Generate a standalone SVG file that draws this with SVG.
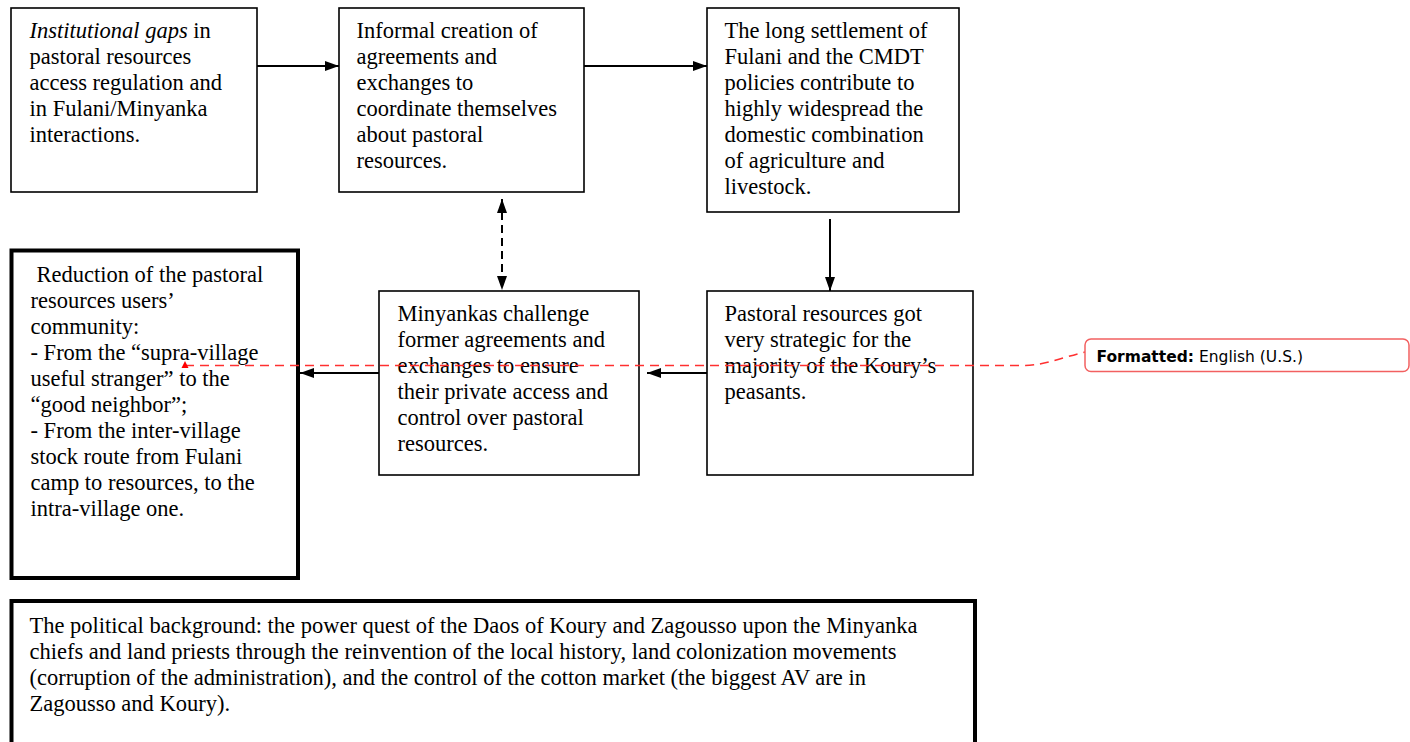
<svg xmlns="http://www.w3.org/2000/svg" width="1410" height="742" viewBox="0 0 1410 742">
<style>
.box{fill:#fff;stroke:#000;stroke-width:1.6}
.thick{fill:#fff;stroke:#000;stroke-width:4}
.t{font-family:"Liberation Serif","Times New Roman",serif;font-size:22.5px;fill:#000}
.c{stroke:#000;stroke-width:2;fill:none}
.dash{stroke:#000;stroke-width:2;fill:none;stroke-dasharray:8 5}
.red{stroke:#ff3030;stroke-width:1.5;fill:none;stroke-dasharray:9 6}
.note{font-family:"DejaVu Sans",Verdana,sans-serif;font-size:15.5px;fill:#000}
</style>
<defs>
<marker id="ah" markerUnits="userSpaceOnUse" markerWidth="14" markerHeight="10" refX="14" refY="5" orient="auto-start-reverse">
<path d="M0,0 L14,5 L0,10 z" fill="#000"/>
</marker>
</defs>
<rect width="1410" height="742" fill="#fff"/>
<g id="n1">
<rect class="box" x="11" y="8" width="246" height="184"/>
<text class="t"><tspan x="29.5" y="38"><tspan font-style="italic">Institutional gaps</tspan> in</tspan><tspan x="29.5" y="64">pastoral resources</tspan><tspan x="29.5" y="90">access regulation and</tspan><tspan x="29.5" y="116">in Fulani/Minyanka</tspan><tspan x="29.5" y="142">interactions.</tspan></text>
</g>
<g id="n2">
<rect class="box" x="339" y="8" width="245" height="184"/>
<text class="t"><tspan x="356.5" y="38">Informal creation of</tspan><tspan x="356.5" y="64">agreements and</tspan><tspan x="356.5" y="90">exchanges to</tspan><tspan x="356.5" y="116">coordinate themselves</tspan><tspan x="356.5" y="142">about pastoral</tspan><tspan x="356.5" y="168">resources.</tspan></text>
</g>
<g id="n3">
<rect class="box" x="707" y="8" width="252" height="204"/>
<text class="t"><tspan x="724.5" y="38">The long settlement of</tspan><tspan x="724.5" y="64">Fulani and the CMDT</tspan><tspan x="724.5" y="90">policies contribute to</tspan><tspan x="724.5" y="116">highly widespread the</tspan><tspan x="724.5" y="142">domestic combination</tspan><tspan x="724.5" y="168">of agriculture and</tspan><tspan x="724.5" y="194">livestock.</tspan></text>
</g>
<g id="n4">
<rect class="box" x="379" y="291" width="260" height="184"/>
<text class="t"><tspan x="397.5" y="321">Minyankas challenge</tspan><tspan x="397.5" y="347">former agreements and</tspan><tspan x="397.5" y="373">exchanges to ensure</tspan><tspan x="397.5" y="399">their private access and</tspan><tspan x="397.5" y="425">control over pastoral</tspan><tspan x="397.5" y="451">resources.</tspan></text>
</g>
<g id="n5">
<rect class="box" x="707" y="291" width="266" height="184"/>
<text class="t"><tspan x="724.5" y="321">Pastoral resources got</tspan><tspan x="724.5" y="347">very strategic for the</tspan><tspan x="724.5" y="373">majority of the Koury’s</tspan><tspan x="724.5" y="399">peasants.</tspan></text>
</g>
<g id="n6">
<rect class="thick" x="11.5" y="250.5" width="286.5" height="327.5"/>
<text class="t"><tspan x="36.5" y="282">Reduction of the pastoral</tspan><tspan x="30.5" y="308">resources users’</tspan><tspan x="30.5" y="334">community:</tspan><tspan x="30.5" y="360">- From the “supra-village</tspan><tspan x="30.5" y="386">useful stranger” to the</tspan><tspan x="30.5" y="412">“good neighbor”;</tspan><tspan x="30.5" y="438">- From the inter-village</tspan><tspan x="30.5" y="464">stock route from Fulani</tspan><tspan x="30.5" y="490">camp to resources, to the</tspan><tspan x="30.5" y="516">intra-village one.</tspan></text>
</g>
<g id="n7">
<rect class="thick" x="11.5" y="601" width="963.5" height="160"/>
<text class="t"><tspan x="29.5" y="633">The political background: the power quest of the Daos of Koury and Zagousso upon the Minyanka</tspan><tspan x="29.5" y="659">chiefs and land priests through the reinvention of the local history, land colonization movements</tspan><tspan x="29.5" y="685">(corruption of the administration), and the control of the cotton market (the biggest AV are in</tspan><tspan x="29.5" y="711">Zagousso and Koury).</tspan></text>
</g>
<g id="connectors">
<line class="c" x1="257" y1="66" x2="339" y2="66" marker-end="url(#ah)"/>
<line class="c" x1="584" y1="66" x2="707" y2="66" marker-end="url(#ah)"/>
<line class="c" x1="830" y1="219" x2="830" y2="291" marker-end="url(#ah)"/>
<line class="c" x1="707" y1="373" x2="647" y2="373" marker-end="url(#ah)"/>
<line class="c" x1="379" y1="373" x2="300" y2="373" marker-end="url(#ah)"/>
<line class="dash" x1="502" y1="199" x2="502" y2="290" marker-start="url(#ah)" marker-end="url(#ah)"/>
</g>
<g id="comment">
<path class="red" d="M185,365.5 H1023 C1045,365.5 1060,358 1085,352"/>
<path d="M181.5,368 L185,361 L188.5,368 z" fill="#ff0000"/>
<rect x="1085" y="339" width="324" height="32.5" rx="6" ry="6" fill="#fff" stroke="#f26060" stroke-width="1.5"/>
<text class="note" x="1096.5" y="362"><tspan font-weight="bold">Formatted:</tspan> English (U.S.)</text>
</g>
</svg>
